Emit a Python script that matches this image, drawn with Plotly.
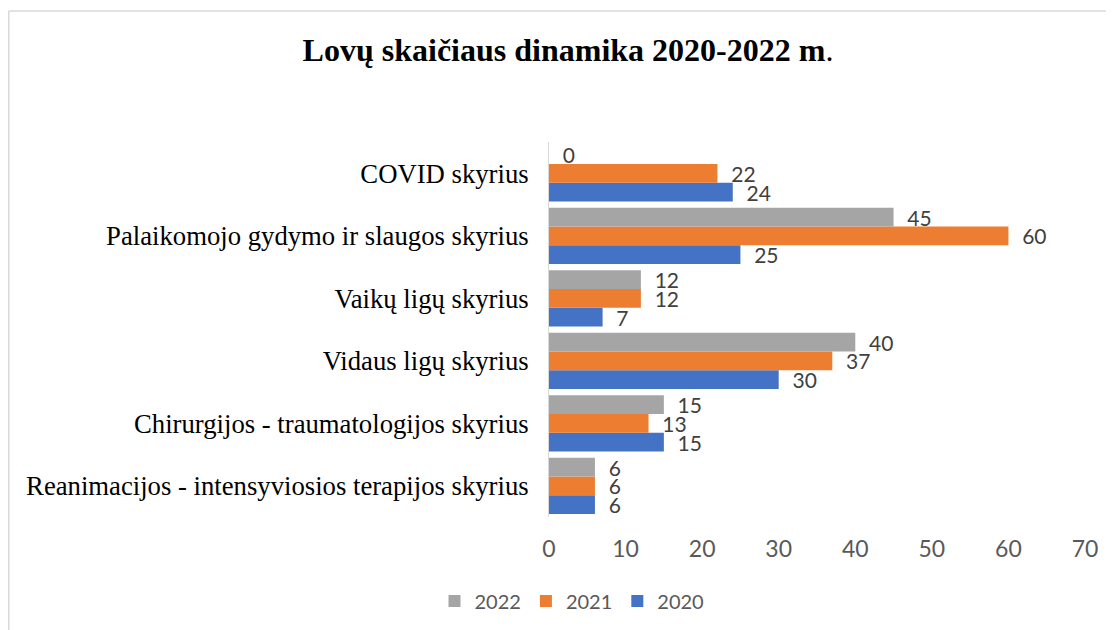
import plotly.graph_objects as go

categories = [
    "Reanimacijos - intensyviosios terapijos skyrius",
    "Chirurgijos - traumatologijos skyrius",
    "Vidaus ligų skyrius",
    "Vaikų ligų skyrius",
    "Palaikomojo gydymo ir slaugos skyrius",
    "COVID skyrius",
]
years = ["2020", "2021", "2022"]
values_2020 = [6, 15, 30, 7, 25, 24]
values_2021 = [6, 13, 37, 12, 60, 22]
values_2022 = [6, 15, 40, 12, 45, 0]
colors = {"2020": "#4472C4", "2021": "#ED7D31", "2022": "#A5A5A5"}
series = {"2020": values_2020, "2021": values_2021, "2022": values_2022}

# page body has an 8px margin, so figure coordinates = screen - 8
OFF = 8
W, H = 1114 - OFF, 630 - OFF
L, R, T, B = 549 - OFF, W - (1085 - OFF), 142 - OFF, H - (517 - OFF)
PW, PH = W - L - R, H - T - B

SANS = "Lato, Liberation Sans, sans-serif"
SERIF = "Liberation Serif, Times New Roman, serif"

fig = go.Figure()
for y in years:
    fig.add_trace(go.Bar(
        y=categories, x=series[y], name=y, orientation="h",
        marker=dict(color=colors[y], line=dict(width=0)),
        text=series[y], texttemplate="\u00a0\u00a0%{x}",
        textposition="outside", cliponaxis=False, constraintext="none",
        textfont=dict(family=SANS, size=21, color="#404040"),
    ))

fig.update_layout(
    width=W, height=H,
    margin=dict(l=L, r=R, t=T, b=B, autoexpand=False),
    paper_bgcolor="white", plot_bgcolor="white",
    barmode="group", bargap=0.1, bargroupgap=0,
    uniformtext=dict(mode=False),
    title=dict(
        text="<b>Lovų skaičiaus dinamika 2020-2022 m</b>.",
        xref="container", yref="container",
        x=(568 - OFF) / W, xanchor="center", y=1 - (50 - OFF) / H, yanchor="middle",
        font=dict(family=SERIF, size=32, color="black"),
    ),
    xaxis=dict(
        range=[0, 70], dtick=10, showgrid=False, zeroline=False, showline=False,
        ticks="", tickfont=dict(family=SANS, size=23, color="#595959"),
        ticklabelstandoff=16,
    ),
    yaxis=dict(
        showgrid=False, zeroline=False, showline=True, linecolor="#D9D9D9", linewidth=1,
        ticks="", ticklabelstandoff=14,
        tickfont=dict(family=SERIF, size=26.7, color="black"),
    ),
    legend=dict(
        orientation="h", traceorder="reversed",
        xref="container", yref="container",
        x=(572 - OFF) / W, xanchor="center",
        y=1 - (601 - OFF) / H, yanchor="middle",
        font=dict(family=SANS, size=20, color="#595959"),
        itemwidth=30,
    ),
    showlegend=True,
)

# chart border (top and left edges visible)
top_y = 1 + (T - (11 - OFF)) / PH
left_x = (0.75 - L) / PW
fig.add_shape(type="line", xref="paper", yref="paper",
              x0=left_x, x1=(W - L) / PW, y0=top_y, y1=top_y,
              line=dict(color="#D9D9D9", width=1.5))
fig.add_shape(type="line", xref="paper", yref="paper",
              x0=left_x, x1=left_x, y0=top_y, y1=-(B + 5) / PH,
              line=dict(color="#D9D9D9", width=1.5))

fig.write_html("out.html")
